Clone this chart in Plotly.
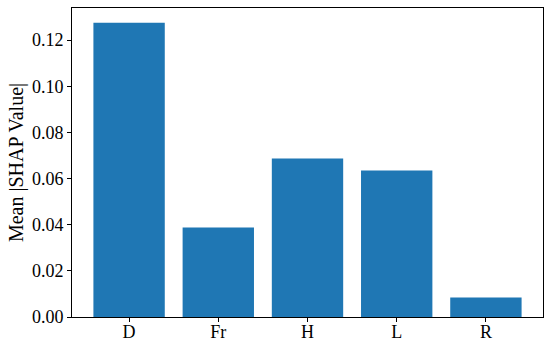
import plotly.graph_objects as go

# features and mean |SHAP| values
features = ["D", "Fr", "H", "L", "R"]
mean_shap = [0.1275, 0.0388, 0.0687, 0.0635, 0.0085]

fnt = dict(family="Liberation Serif", size=18, color="black")
title_fnt = dict(family="Liberation Serif", size=20, color="black")

fig = go.Figure(
    data=go.Bar(
        x=list(range(len(features))),
        y=mean_shap,
        width=0.8,
        marker=dict(color="#1f77b4", line=dict(width=0)),
    )
)

fig.update_layout(
    width=550, height=343,
    margin=dict(l=72, r=7, t=8, b=26),
    plot_bgcolor="white", paper_bgcolor="white",
    font=fnt,
    showlegend=False,
)
fig.update_xaxes(
    range=[-0.64, 4.64], automargin=False,
    tickmode="array", tickvals=list(range(len(features))), ticktext=features,
    ticks="outside", ticklen=4, tickcolor="black", ticklabelstandoff=-6,
    showline=True, linecolor="black", linewidth=1, mirror=True,
    showgrid=False, zeroline=False, tickfont=fnt,
)
fig.update_yaxes(
    range=[0, 0.1339], automargin=False,
    tickmode="array", tickvals=[0, 0.02, 0.04, 0.06, 0.08, 0.10, 0.12],
    tickformat=".2f",
    ticks="outside", ticklen=4, tickcolor="black",
    showline=True, linecolor="black", linewidth=1, mirror=True,
    showgrid=False, zeroline=False, tickfont=fnt,
    title=dict(text="Mean |SHAP Value|", font=title_fnt, standoff=2),
)

# page body has a default margin; drop it so the figure sits at the corner
fig.write_html("out.html", config={"displayModeBar": False},
               post_script="document.body.style.margin='0';")
